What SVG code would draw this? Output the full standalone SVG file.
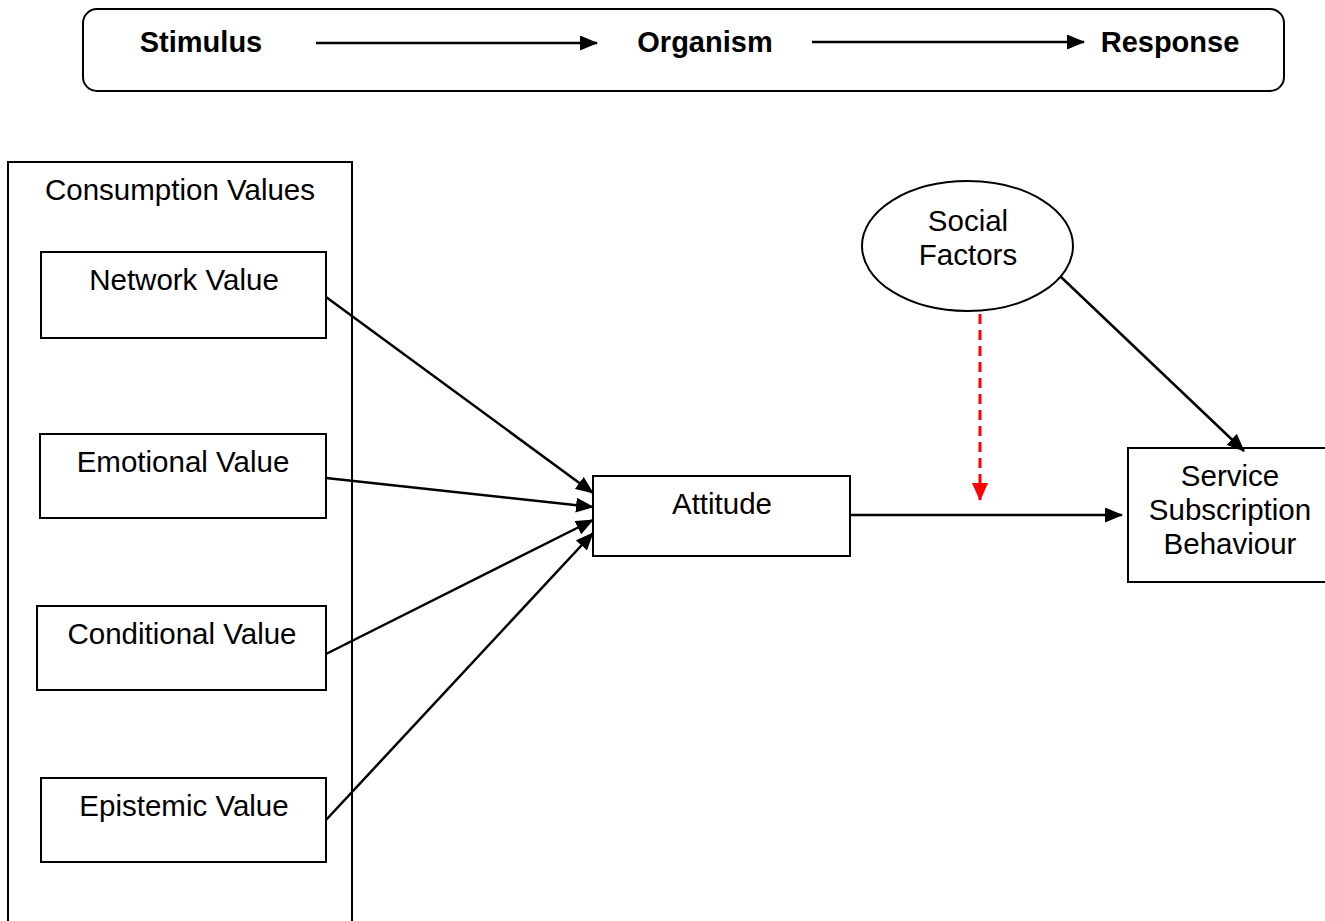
<svg xmlns="http://www.w3.org/2000/svg" width="1325" height="921" viewBox="0 0 1325 921">
<style>
.box{fill:#fff;stroke:#000;stroke-width:2}
.t{font-family:"Liberation Sans",Arial,sans-serif;font-size:29.5px;fill:#000;text-anchor:middle}
.b{font-weight:bold;font-size:29px}
.ln{stroke:#000;stroke-width:2.5;fill:none}
.red{stroke:#ff0000;stroke-width:3;fill:none;stroke-dasharray:10,6}
</style>
<defs>
<marker id="ah" markerUnits="userSpaceOnUse" markerWidth="18" markerHeight="15" refX="17" refY="7.5" orient="auto">
<path d="M0,0 L18,7.5 L0,15 Z" fill="#000"/>
</marker>
<marker id="ahr" markerUnits="userSpaceOnUse" markerWidth="18" markerHeight="16" refX="17" refY="8" orient="auto">
<path d="M0,0 L18,8 L0,16 Z" fill="#ff0000"/>
</marker>
</defs>
<rect width="1325" height="921" fill="#fff"/>
<g id="sor">
<rect class="box" x="83" y="9" width="1201" height="82" rx="14"/>
<text class="t b" x="201" y="52">Stimulus</text>
<text class="t b" x="705" y="52">Organism</text>
<text class="t b" x="1170" y="52">Response</text>
<line class="ln" x1="316" y1="43" x2="597" y2="43" marker-end="url(#ah)"/>
<line class="ln" x1="812" y1="42" x2="1084" y2="42" marker-end="url(#ah)"/>
</g>
<g id="consumption-values">
<rect class="box" x="8" y="162" width="344" height="780"/>
<text class="t" x="180" y="200">Consumption Values</text>
</g>
<g id="network-value">
<rect class="box" x="41" y="252" width="285" height="86"/>
<text class="t" x="184" y="290">Network Value</text>
</g>
<g id="emotional-value">
<rect class="box" x="40" y="434" width="286" height="84"/>
<text class="t" x="183" y="472">Emotional Value</text>
</g>
<g id="conditional-value">
<rect class="box" x="37" y="606" width="289" height="84"/>
<text class="t" x="182" y="644">Conditional Value</text>
</g>
<g id="epistemic-value">
<rect class="box" x="41" y="778" width="285" height="84"/>
<text class="t" x="184" y="816">Epistemic Value</text>
</g>
<g id="attitude">
<rect class="box" x="593" y="476" width="257" height="80"/>
<text class="t" x="722" y="514">Attitude</text>
</g>
<g id="social-factors">
<ellipse class="box" cx="967.5" cy="246" rx="105.5" ry="65"/>
<text class="t" x="968" y="231">Social</text>
<text class="t" x="968" y="265">Factors</text>
</g>
<g id="service-subscription">
<rect class="box" x="1128" y="448" width="205" height="134"/>
<text class="t" x="1230" y="486">Service</text>
<text class="t" x="1230" y="520">Subscription</text>
<text class="t" x="1230" y="554">Behaviour</text>
</g>
<g id="connectors">
<line class="ln" x1="326" y1="297" x2="593" y2="493" marker-end="url(#ah)"/>
<line class="ln" x1="326" y1="478" x2="593" y2="507" marker-end="url(#ah)"/>
<line class="ln" x1="326" y1="654" x2="593" y2="520" marker-end="url(#ah)"/>
<line class="ln" x1="326" y1="820" x2="593" y2="533" marker-end="url(#ah)"/>
<line class="ln" x1="850" y1="515" x2="1122" y2="515" marker-end="url(#ah)"/>
<line class="ln" x1="1061" y1="277" x2="1244" y2="451" marker-end="url(#ah)"/>
<line class="red" x1="980" y1="314" x2="980" y2="500" marker-end="url(#ahr)"/>
</g>
</svg>
